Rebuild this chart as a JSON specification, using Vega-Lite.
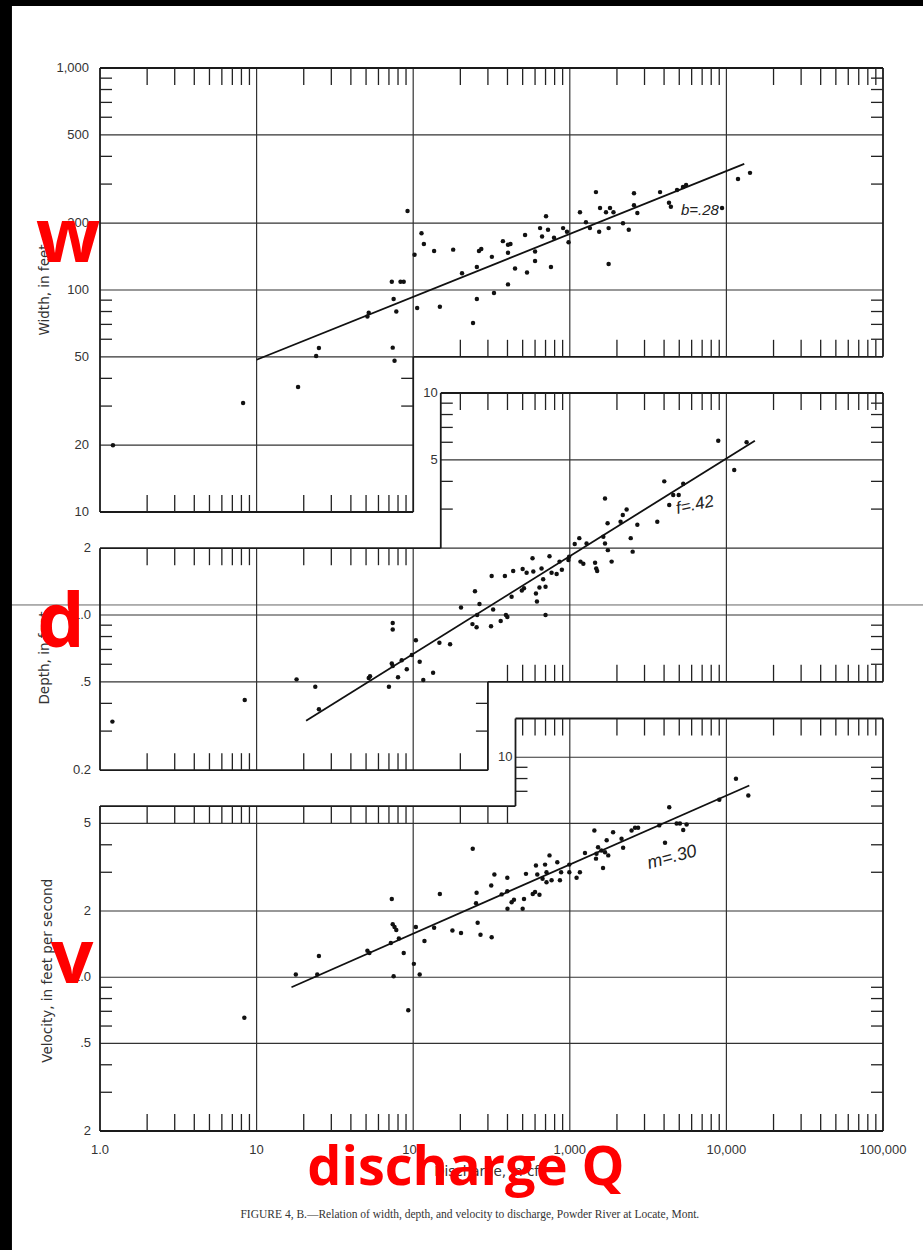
{
  "$schema": "https://vega.github.io/schema/vega-lite/v6.json",
  "width": 783,
  "height": 1063,
  "autosize": {"type": "none"},
  "padding": {"left": 100, "top": 68, "right": 40, "bottom": 119},
  "background": "white",
  "config": {"view": {"stroke": null}, "font": "DejaVu Sans"},
  "resolve": {"scale": {"y": "independent"}},
  "datasets": {
    "width_segments": [
      {"discharge": 1, "discharge2": 100000, "width": 1000, "width2": 1000, "kind": "frame"},
      {"discharge": 100000, "discharge2": 100000, "width": 1000, "width2": 50, "kind": "frame"},
      {"discharge": 100, "discharge2": 100000, "width": 50, "width2": 50, "kind": "frame"},
      {"discharge": 100, "discharge2": 100, "width": 50, "width2": 10, "kind": "frame"},
      {"discharge": 1, "discharge2": 100, "width": 10, "width2": 10, "kind": "frame"},
      {"discharge": 1, "discharge2": 1, "width": 10, "width2": 1000, "kind": "frame"},
      {"discharge": 1, "discharge2": 100000, "width": 500, "width2": 500, "kind": "grid"},
      {"discharge": 1, "discharge2": 100000, "width": 200, "width2": 200, "kind": "grid"},
      {"discharge": 1, "discharge2": 100000, "width": 100, "width2": 100, "kind": "grid"},
      {"discharge": 1, "discharge2": 100, "width": 50, "width2": 50, "kind": "grid"},
      {"discharge": 1, "discharge2": 100, "width": 20, "width2": 20, "kind": "grid"},
      {"discharge": 10, "discharge2": 10, "width": 10, "width2": 1000, "kind": "grid"},
      {"discharge": 100, "discharge2": 100, "width": 50, "width2": 1000, "kind": "grid"},
      {"discharge": 1000, "discharge2": 1000, "width": 50, "width2": 1000, "kind": "grid"},
      {"discharge": 10000, "discharge2": 10000, "width": 50, "width2": 1000, "kind": "grid"}
    ],
    "width_ticks": [
      {"discharge": 2, "width": 1000, "side": "top"}, {"discharge": 3, "width": 1000, "side": "top"}, {"discharge": 4, "width": 1000, "side": "top"}, {"discharge": 5, "width": 1000, "side": "top"}, {"discharge": 6, "width": 1000, "side": "top"}, {"discharge": 7, "width": 1000, "side": "top"}, {"discharge": 8, "width": 1000, "side": "top"}, {"discharge": 9, "width": 1000, "side": "top"},
      {"discharge": 20, "width": 1000, "side": "top"}, {"discharge": 30, "width": 1000, "side": "top"}, {"discharge": 40, "width": 1000, "side": "top"}, {"discharge": 50, "width": 1000, "side": "top"}, {"discharge": 60, "width": 1000, "side": "top"}, {"discharge": 70, "width": 1000, "side": "top"}, {"discharge": 80, "width": 1000, "side": "top"}, {"discharge": 90, "width": 1000, "side": "top"},
      {"discharge": 200, "width": 1000, "side": "top"}, {"discharge": 300, "width": 1000, "side": "top"}, {"discharge": 400, "width": 1000, "side": "top"}, {"discharge": 500, "width": 1000, "side": "top"}, {"discharge": 600, "width": 1000, "side": "top"}, {"discharge": 700, "width": 1000, "side": "top"}, {"discharge": 800, "width": 1000, "side": "top"}, {"discharge": 900, "width": 1000, "side": "top"},
      {"discharge": 2000, "width": 1000, "side": "top"}, {"discharge": 3000, "width": 1000, "side": "top"}, {"discharge": 4000, "width": 1000, "side": "top"}, {"discharge": 5000, "width": 1000, "side": "top"}, {"discharge": 6000, "width": 1000, "side": "top"}, {"discharge": 7000, "width": 1000, "side": "top"}, {"discharge": 8000, "width": 1000, "side": "top"}, {"discharge": 9000, "width": 1000, "side": "top"},
      {"discharge": 20000, "width": 1000, "side": "top"}, {"discharge": 30000, "width": 1000, "side": "top"}, {"discharge": 40000, "width": 1000, "side": "top"}, {"discharge": 50000, "width": 1000, "side": "top"}, {"discharge": 60000, "width": 1000, "side": "top"}, {"discharge": 70000, "width": 1000, "side": "top"}, {"discharge": 80000, "width": 1000, "side": "top"}, {"discharge": 90000, "width": 1000, "side": "top"},
      {"discharge": 2, "width": 10, "side": "bottom"}, {"discharge": 3, "width": 10, "side": "bottom"}, {"discharge": 4, "width": 10, "side": "bottom"}, {"discharge": 5, "width": 10, "side": "bottom"}, {"discharge": 6, "width": 10, "side": "bottom"}, {"discharge": 7, "width": 10, "side": "bottom"}, {"discharge": 8, "width": 10, "side": "bottom"}, {"discharge": 9, "width": 10, "side": "bottom"},
      {"discharge": 20, "width": 10, "side": "bottom"}, {"discharge": 30, "width": 10, "side": "bottom"}, {"discharge": 40, "width": 10, "side": "bottom"}, {"discharge": 50, "width": 10, "side": "bottom"}, {"discharge": 60, "width": 10, "side": "bottom"}, {"discharge": 70, "width": 10, "side": "bottom"}, {"discharge": 80, "width": 10, "side": "bottom"}, {"discharge": 90, "width": 10, "side": "bottom"},
      {"discharge": 200, "width": 50, "side": "bottom"}, {"discharge": 300, "width": 50, "side": "bottom"}, {"discharge": 400, "width": 50, "side": "bottom"}, {"discharge": 500, "width": 50, "side": "bottom"}, {"discharge": 600, "width": 50, "side": "bottom"}, {"discharge": 700, "width": 50, "side": "bottom"}, {"discharge": 800, "width": 50, "side": "bottom"}, {"discharge": 900, "width": 50, "side": "bottom"},
      {"discharge": 2000, "width": 50, "side": "bottom"}, {"discharge": 3000, "width": 50, "side": "bottom"}, {"discharge": 4000, "width": 50, "side": "bottom"}, {"discharge": 5000, "width": 50, "side": "bottom"}, {"discharge": 6000, "width": 50, "side": "bottom"}, {"discharge": 7000, "width": 50, "side": "bottom"}, {"discharge": 8000, "width": 50, "side": "bottom"}, {"discharge": 9000, "width": 50, "side": "bottom"},
      {"discharge": 20000, "width": 50, "side": "bottom"}, {"discharge": 30000, "width": 50, "side": "bottom"}, {"discharge": 40000, "width": 50, "side": "bottom"}, {"discharge": 50000, "width": 50, "side": "bottom"}, {"discharge": 60000, "width": 50, "side": "bottom"}, {"discharge": 70000, "width": 50, "side": "bottom"}, {"discharge": 80000, "width": 50, "side": "bottom"}, {"discharge": 90000, "width": 50, "side": "bottom"},
      {"discharge": 1, "width": 30, "side": "left"}, {"discharge": 1, "width": 40, "side": "left"}, {"discharge": 1, "width": 60, "side": "left"}, {"discharge": 1, "width": 70, "side": "left"}, {"discharge": 1, "width": 80, "side": "left"}, {"discharge": 1, "width": 90, "side": "left"},
      {"discharge": 1, "width": 300, "side": "left"}, {"discharge": 1, "width": 400, "side": "left"}, {"discharge": 1, "width": 600, "side": "left"}, {"discharge": 1, "width": 700, "side": "left"}, {"discharge": 1, "width": 800, "side": "left"}, {"discharge": 1, "width": 900, "side": "left"},
      {"discharge": 100000, "width": 60, "side": "right"}, {"discharge": 100000, "width": 70, "side": "right"}, {"discharge": 100000, "width": 80, "side": "right"}, {"discharge": 100000, "width": 90, "side": "right"},
      {"discharge": 100000, "width": 300, "side": "right"}, {"discharge": 100000, "width": 400, "side": "right"}, {"discharge": 100000, "width": 600, "side": "right"}, {"discharge": 100000, "width": 700, "side": "right"}, {"discharge": 100000, "width": 800, "side": "right"}, {"discharge": 100000, "width": 900, "side": "right"},
      {"discharge": 100, "width": 30, "side": "right"}, {"discharge": 100, "width": 40, "side": "right"}
    ],
    "width_labels": [
      {"discharge": 1, "width": 1000, "label": "1,000"}, {"discharge": 1, "width": 500, "label": "500"}, {"discharge": 1, "width": 200, "label": "200"}, {"discharge": 1, "width": 100, "label": "100"}, {"discharge": 1, "width": 50, "label": "50"}, {"discharge": 1, "width": 20, "label": "20"}, {"discharge": 1, "width": 10, "label": "10"}
    ],
    "width_fit": [{"discharge": 10, "width": 48.5}, {"discharge": 13000, "width": 370}],
    "width_points": [
      {"discharge": 92, "width": 227}, {"discharge": 102, "width": 144}, {"discharge": 113, "width": 180}, {"discharge": 117, "width": 161}, {"discharge": 136, "width": 150}, {"discharge": 180, "width": 152}, {"discharge": 205, "width": 119}, {"discharge": 255, "width": 127}, {"discharge": 263, "width": 150}, {"discharge": 272, "width": 153}, {"discharge": 255, "width": 91}, {"discharge": 318, "width": 141}, {"discharge": 328, "width": 97}, {"discharge": 374, "width": 166}, {"discharge": 403, "width": 160}, {"discharge": 418, "width": 161}, {"discharge": 403, "width": 147}, {"discharge": 403, "width": 106}, {"discharge": 447, "width": 125}, {"discharge": 518, "width": 177}, {"discharge": 533, "width": 120}, {"discharge": 600, "width": 149}, {"discharge": 600, "width": 135}, {"discharge": 646, "width": 190}, {"discharge": 665, "width": 174}, {"discharge": 705, "width": 215}, {"discharge": 726, "width": 187}, {"discharge": 793, "width": 172}, {"discharge": 758, "width": 127}, {"discharge": 906, "width": 190}, {"discharge": 959, "width": 183}, {"discharge": 982, "width": 164}, {"discharge": 1161, "width": 224}, {"discharge": 1268, "width": 202}, {"discharge": 1344, "width": 190}, {"discharge": 1469, "width": 276}, {"discharge": 1540, "width": 183}, {"discharge": 1560, "width": 234}, {"discharge": 1703, "width": 224}, {"discharge": 1770, "width": 190}, {"discharge": 1770, "width": 131}, {"discharge": 1806, "width": 234}, {"discharge": 1900, "width": 224}, {"discharge": 2186, "width": 200}, {"discharge": 2380, "width": 187}, {"discharge": 2570, "width": 273}, {"discharge": 2570, "width": 241}, {"discharge": 2700, "width": 222}, {"discharge": 3770, "width": 276}, {"discharge": 4300, "width": 247}, {"discharge": 4420, "width": 237}, {"discharge": 4840, "width": 282}, {"discharge": 5280, "width": 291}, {"discharge": 5530, "width": 297}, {"discharge": 9380, "width": 234}, {"discharge": 11860, "width": 316}, {"discharge": 14150, "width": 337}, {"discharge": 73, "width": 109}, {"discharge": 83, "width": 109}, {"discharge": 87, "width": 109}, {"discharge": 75, "width": 91}, {"discharge": 52, "width": 79}, {"discharge": 51, "width": 76}, {"discharge": 78, "width": 80}, {"discharge": 106, "width": 83}, {"discharge": 148, "width": 84}, {"discharge": 241, "width": 71}, {"discharge": 24, "width": 50.4}, {"discharge": 25, "width": 54.8}, {"discharge": 74, "width": 55}, {"discharge": 76, "width": 48}, {"discharge": 18.4, "width": 36.6}, {"discharge": 8.2, "width": 31}, {"discharge": 1.21, "width": 20}
    ],
    "depth_segments": [
      {"discharge": 0.2, "discharge2": 300000, "depth": 1.11, "depth2": 1.11, "kind": "overlay"},
      {"discharge": 150, "discharge2": 100000, "depth": 10, "depth2": 10, "kind": "frame"},
      {"discharge": 150, "discharge2": 150, "depth": 10, "depth2": 2, "kind": "frame"},
      {"discharge": 1, "discharge2": 150, "depth": 2, "depth2": 2, "kind": "frame"},
      {"discharge": 1, "discharge2": 1, "depth": 2, "depth2": 0.2, "kind": "frame"},
      {"discharge": 1, "discharge2": 300, "depth": 0.2, "depth2": 0.2, "kind": "frame"},
      {"discharge": 300, "discharge2": 300, "depth": 0.2, "depth2": 0.5, "kind": "frame"},
      {"discharge": 300, "discharge2": 100000, "depth": 0.5, "depth2": 0.5, "kind": "frame"},
      {"discharge": 100000, "discharge2": 100000, "depth": 0.5, "depth2": 10, "kind": "frame"},
      {"discharge": 150, "discharge2": 100000, "depth": 5, "depth2": 5, "kind": "grid"},
      {"discharge": 150, "discharge2": 100000, "depth": 2, "depth2": 2, "kind": "grid"},
      {"discharge": 1, "discharge2": 100000, "depth": 1, "depth2": 1, "kind": "grid"},
      {"discharge": 1, "discharge2": 300, "depth": 0.5, "depth2": 0.5, "kind": "grid"},
      {"discharge": 10, "discharge2": 10, "depth": 0.2, "depth2": 2, "kind": "grid"},
      {"discharge": 100, "discharge2": 100, "depth": 0.2, "depth2": 2, "kind": "grid"},
      {"discharge": 1000, "discharge2": 1000, "depth": 0.5, "depth2": 10, "kind": "grid"},
      {"discharge": 10000, "discharge2": 10000, "depth": 0.5, "depth2": 10, "kind": "grid"}
    ],
    "depth_ticks": [
      {"discharge": 200, "depth": 10, "side": "top"}, {"discharge": 300, "depth": 10, "side": "top"}, {"discharge": 400, "depth": 10, "side": "top"}, {"discharge": 500, "depth": 10, "side": "top"}, {"discharge": 600, "depth": 10, "side": "top"}, {"discharge": 700, "depth": 10, "side": "top"}, {"discharge": 800, "depth": 10, "side": "top"}, {"discharge": 900, "depth": 10, "side": "top"},
      {"discharge": 2000, "depth": 10, "side": "top"}, {"discharge": 3000, "depth": 10, "side": "top"}, {"discharge": 4000, "depth": 10, "side": "top"}, {"discharge": 5000, "depth": 10, "side": "top"}, {"discharge": 6000, "depth": 10, "side": "top"}, {"discharge": 7000, "depth": 10, "side": "top"}, {"discharge": 8000, "depth": 10, "side": "top"}, {"discharge": 9000, "depth": 10, "side": "top"},
      {"discharge": 20000, "depth": 10, "side": "top"}, {"discharge": 30000, "depth": 10, "side": "top"}, {"discharge": 40000, "depth": 10, "side": "top"}, {"discharge": 50000, "depth": 10, "side": "top"}, {"discharge": 60000, "depth": 10, "side": "top"}, {"discharge": 70000, "depth": 10, "side": "top"}, {"discharge": 80000, "depth": 10, "side": "top"}, {"discharge": 90000, "depth": 10, "side": "top"},
      {"discharge": 2, "depth": 2, "side": "top"}, {"discharge": 3, "depth": 2, "side": "top"}, {"discharge": 4, "depth": 2, "side": "top"}, {"discharge": 5, "depth": 2, "side": "top"}, {"discharge": 6, "depth": 2, "side": "top"}, {"discharge": 7, "depth": 2, "side": "top"}, {"discharge": 8, "depth": 2, "side": "top"}, {"discharge": 9, "depth": 2, "side": "top"},
      {"discharge": 20, "depth": 2, "side": "top"}, {"discharge": 30, "depth": 2, "side": "top"}, {"discharge": 40, "depth": 2, "side": "top"}, {"discharge": 50, "depth": 2, "side": "top"}, {"discharge": 60, "depth": 2, "side": "top"}, {"discharge": 70, "depth": 2, "side": "top"}, {"discharge": 80, "depth": 2, "side": "top"}, {"discharge": 90, "depth": 2, "side": "top"},
      {"discharge": 2, "depth": 0.2, "side": "bottom"}, {"discharge": 3, "depth": 0.2, "side": "bottom"}, {"discharge": 4, "depth": 0.2, "side": "bottom"}, {"discharge": 5, "depth": 0.2, "side": "bottom"}, {"discharge": 6, "depth": 0.2, "side": "bottom"}, {"discharge": 7, "depth": 0.2, "side": "bottom"}, {"discharge": 8, "depth": 0.2, "side": "bottom"}, {"discharge": 9, "depth": 0.2, "side": "bottom"},
      {"discharge": 20, "depth": 0.2, "side": "bottom"}, {"discharge": 30, "depth": 0.2, "side": "bottom"}, {"discharge": 40, "depth": 0.2, "side": "bottom"}, {"discharge": 50, "depth": 0.2, "side": "bottom"}, {"discharge": 60, "depth": 0.2, "side": "bottom"}, {"discharge": 70, "depth": 0.2, "side": "bottom"}, {"discharge": 80, "depth": 0.2, "side": "bottom"}, {"discharge": 90, "depth": 0.2, "side": "bottom"}, {"discharge": 200, "depth": 0.2, "side": "bottom"},
      {"discharge": 400, "depth": 0.5, "side": "bottom"}, {"discharge": 500, "depth": 0.5, "side": "bottom"}, {"discharge": 600, "depth": 0.5, "side": "bottom"}, {"discharge": 700, "depth": 0.5, "side": "bottom"}, {"discharge": 800, "depth": 0.5, "side": "bottom"}, {"discharge": 900, "depth": 0.5, "side": "bottom"},
      {"discharge": 2000, "depth": 0.5, "side": "bottom"}, {"discharge": 3000, "depth": 0.5, "side": "bottom"}, {"discharge": 4000, "depth": 0.5, "side": "bottom"}, {"discharge": 5000, "depth": 0.5, "side": "bottom"}, {"discharge": 6000, "depth": 0.5, "side": "bottom"}, {"discharge": 7000, "depth": 0.5, "side": "bottom"}, {"discharge": 8000, "depth": 0.5, "side": "bottom"}, {"discharge": 9000, "depth": 0.5, "side": "bottom"},
      {"discharge": 20000, "depth": 0.5, "side": "bottom"}, {"discharge": 30000, "depth": 0.5, "side": "bottom"}, {"discharge": 40000, "depth": 0.5, "side": "bottom"}, {"discharge": 50000, "depth": 0.5, "side": "bottom"}, {"discharge": 60000, "depth": 0.5, "side": "bottom"}, {"discharge": 70000, "depth": 0.5, "side": "bottom"}, {"discharge": 80000, "depth": 0.5, "side": "bottom"}, {"discharge": 90000, "depth": 0.5, "side": "bottom"},
      {"discharge": 1, "depth": 0.3, "side": "left"}, {"discharge": 1, "depth": 0.4, "side": "left"}, {"discharge": 1, "depth": 0.6, "side": "left"}, {"discharge": 1, "depth": 0.7, "side": "left"}, {"discharge": 1, "depth": 0.8, "side": "left"}, {"discharge": 1, "depth": 0.9, "side": "left"},
      {"discharge": 150, "depth": 3, "side": "left"}, {"discharge": 150, "depth": 4, "side": "left"}, {"discharge": 150, "depth": 6, "side": "left"}, {"discharge": 150, "depth": 7, "side": "left"}, {"discharge": 150, "depth": 8, "side": "left"}, {"discharge": 150, "depth": 9, "side": "left"},
      {"discharge": 100000, "depth": 0.6, "side": "right"}, {"discharge": 100000, "depth": 0.7, "side": "right"}, {"discharge": 100000, "depth": 0.8, "side": "right"}, {"discharge": 100000, "depth": 0.9, "side": "right"},
      {"discharge": 100000, "depth": 3, "side": "right"}, {"discharge": 100000, "depth": 4, "side": "right"}, {"discharge": 100000, "depth": 6, "side": "right"}, {"discharge": 100000, "depth": 7, "side": "right"}, {"discharge": 100000, "depth": 8, "side": "right"}, {"discharge": 100000, "depth": 9, "side": "right"},
      {"discharge": 300, "depth": 0.3, "side": "right"}, {"discharge": 300, "depth": 0.4, "side": "right"}
    ],
    "depth_labels": [
      {"discharge": 1, "depth": 2, "label": "2", "edge": "outer"}, {"discharge": 1, "depth": 1, "label": "1.0", "edge": "outer"}, {"discharge": 1, "depth": 0.5, "label": ".5", "edge": "outer"}, {"discharge": 1, "depth": 0.2, "label": "0.2", "edge": "outer"},
      {"discharge": 150, "depth": 10, "label": "10", "edge": "step"}, {"discharge": 150, "depth": 5, "label": "5", "edge": "step"}
    ],
    "depth_fit": [{"discharge": 20.7, "depth": 0.334}, {"discharge": 15200, "depth": 6.1}],
    "depth_points": [
      {"discharge": 8870, "depth": 6.1}, {"discharge": 13460, "depth": 6.0}, {"discharge": 11220, "depth": 4.5}, {"discharge": 4010, "depth": 4.0}, {"discharge": 5300, "depth": 3.9}, {"discharge": 4575, "depth": 3.47}, {"discharge": 4960, "depth": 3.47}, {"discharge": 4315, "depth": 3.13}, {"discharge": 1678, "depth": 3.35}, {"discharge": 1743, "depth": 2.59}, {"discharge": 2110, "depth": 2.63}, {"discharge": 2180, "depth": 2.82}, {"discharge": 2306, "depth": 2.99}, {"discharge": 2700, "depth": 2.55}, {"discharge": 3620, "depth": 2.63}, {"discharge": 2450, "depth": 2.22}, {"discharge": 2520, "depth": 1.93}, {"discharge": 1637, "depth": 2.25}, {"discharge": 1678, "depth": 2.1}, {"discharge": 1750, "depth": 1.96}, {"discharge": 1850, "depth": 1.74}, {"discharge": 1450, "depth": 1.72}, {"discharge": 1475, "depth": 1.62}, {"discharge": 1495, "depth": 1.58}, {"discharge": 1280, "depth": 2.1}, {"discharge": 1150, "depth": 2.22}, {"discharge": 1075, "depth": 2.09}, {"discharge": 1170, "depth": 1.74}, {"discharge": 1220, "depth": 1.7}, {"discharge": 980, "depth": 1.77}, {"discharge": 990, "depth": 1.83}, {"discharge": 890, "depth": 1.6}, {"discharge": 860, "depth": 1.74}, {"discharge": 824, "depth": 1.53}, {"discharge": 765, "depth": 1.55}, {"discharge": 742, "depth": 1.84}, {"discharge": 676, "depth": 1.45}, {"discharge": 660, "depth": 1.62}, {"discharge": 700, "depth": 1.34}, {"discharge": 640, "depth": 1.33}, {"discharge": 608, "depth": 1.25}, {"discharge": 617, "depth": 1.15}, {"discharge": 585, "depth": 1.57}, {"discharge": 578, "depth": 1.8}, {"discharge": 530, "depth": 1.55}, {"discharge": 500, "depth": 1.61}, {"discharge": 510, "depth": 1.32}, {"discharge": 494, "depth": 1.29}, {"discharge": 435, "depth": 1.58}, {"discharge": 425, "depth": 1.21}, {"discharge": 385, "depth": 1.5}, {"discharge": 317, "depth": 1.5}, {"discharge": 248, "depth": 1.28}, {"discharge": 265, "depth": 1.12}, {"discharge": 202, "depth": 1.08}, {"discharge": 324, "depth": 1.06}, {"discharge": 256, "depth": 1.0}, {"discharge": 391, "depth": 1.0}, {"discharge": 700, "depth": 1.0}, {"discharge": 239, "depth": 0.91}, {"discharge": 254, "depth": 0.88}, {"discharge": 314, "depth": 0.89}, {"discharge": 362, "depth": 0.94}, {"discharge": 399, "depth": 0.98}, {"discharge": 172, "depth": 0.738}, {"discharge": 147, "depth": 0.75}, {"discharge": 104, "depth": 0.77}, {"discharge": 98, "depth": 0.66}, {"discharge": 110, "depth": 0.616}, {"discharge": 84.5, "depth": 0.626}, {"discharge": 73, "depth": 0.605}, {"discharge": 74, "depth": 0.59}, {"discharge": 74, "depth": 0.92}, {"discharge": 74, "depth": 0.86}, {"discharge": 91, "depth": 0.57}, {"discharge": 80, "depth": 0.524}, {"discharge": 116, "depth": 0.51}, {"discharge": 134, "depth": 0.55}, {"discharge": 70, "depth": 0.475}, {"discharge": 52, "depth": 0.52}, {"discharge": 53, "depth": 0.53}, {"discharge": 18, "depth": 0.513}, {"discharge": 23.7, "depth": 0.475}, {"discharge": 25, "depth": 0.376}, {"discharge": 8.4, "depth": 0.414}, {"discharge": 1.2, "depth": 0.331}
    ],
    "velocity_segments": [
      {"discharge": 1, "discharge2": 450, "velocity": 6, "velocity2": 6, "kind": "frame"},
      {"discharge": 450, "discharge2": 450, "velocity": 6, "velocity2": 15, "kind": "frame"},
      {"discharge": 450, "discharge2": 100000, "velocity": 15, "velocity2": 15, "kind": "frame"},
      {"discharge": 100000, "discharge2": 100000, "velocity": 15, "velocity2": 0.2, "kind": "frame"},
      {"discharge": 1, "discharge2": 100000, "velocity": 0.2, "velocity2": 0.2, "kind": "frame"},
      {"discharge": 1, "discharge2": 1, "velocity": 0.2, "velocity2": 6, "kind": "frame"},
      {"discharge": 450, "discharge2": 100000, "velocity": 10, "velocity2": 10, "kind": "grid"},
      {"discharge": 1, "discharge2": 100000, "velocity": 5, "velocity2": 5, "kind": "grid"},
      {"discharge": 1, "discharge2": 100000, "velocity": 2, "velocity2": 2, "kind": "grid"},
      {"discharge": 1, "discharge2": 100000, "velocity": 1, "velocity2": 1, "kind": "grid"},
      {"discharge": 1, "discharge2": 100000, "velocity": 0.5, "velocity2": 0.5, "kind": "grid"},
      {"discharge": 10, "discharge2": 10, "velocity": 0.2, "velocity2": 6, "kind": "grid"},
      {"discharge": 100, "discharge2": 100, "velocity": 0.2, "velocity2": 6, "kind": "grid"},
      {"discharge": 1000, "discharge2": 1000, "velocity": 0.2, "velocity2": 15, "kind": "grid"},
      {"discharge": 10000, "discharge2": 10000, "velocity": 0.2, "velocity2": 15, "kind": "grid"}
    ],
    "velocity_ticks": [
      {"discharge": 2, "velocity": 6, "side": "top"}, {"discharge": 3, "velocity": 6, "side": "top"}, {"discharge": 4, "velocity": 6, "side": "top"}, {"discharge": 5, "velocity": 6, "side": "top"}, {"discharge": 6, "velocity": 6, "side": "top"}, {"discharge": 7, "velocity": 6, "side": "top"}, {"discharge": 8, "velocity": 6, "side": "top"}, {"discharge": 9, "velocity": 6, "side": "top"},
      {"discharge": 20, "velocity": 6, "side": "top"}, {"discharge": 30, "velocity": 6, "side": "top"}, {"discharge": 40, "velocity": 6, "side": "top"}, {"discharge": 50, "velocity": 6, "side": "top"}, {"discharge": 60, "velocity": 6, "side": "top"}, {"discharge": 70, "velocity": 6, "side": "top"}, {"discharge": 80, "velocity": 6, "side": "top"}, {"discharge": 90, "velocity": 6, "side": "top"},
      {"discharge": 200, "velocity": 6, "side": "top"}, {"discharge": 300, "velocity": 6, "side": "top"}, {"discharge": 400, "velocity": 6, "side": "top"},
      {"discharge": 500, "velocity": 15, "side": "top"}, {"discharge": 600, "velocity": 15, "side": "top"}, {"discharge": 700, "velocity": 15, "side": "top"}, {"discharge": 800, "velocity": 15, "side": "top"}, {"discharge": 900, "velocity": 15, "side": "top"},
      {"discharge": 2000, "velocity": 15, "side": "top"}, {"discharge": 3000, "velocity": 15, "side": "top"}, {"discharge": 4000, "velocity": 15, "side": "top"}, {"discharge": 5000, "velocity": 15, "side": "top"}, {"discharge": 6000, "velocity": 15, "side": "top"}, {"discharge": 7000, "velocity": 15, "side": "top"}, {"discharge": 8000, "velocity": 15, "side": "top"}, {"discharge": 9000, "velocity": 15, "side": "top"},
      {"discharge": 20000, "velocity": 15, "side": "top"}, {"discharge": 30000, "velocity": 15, "side": "top"}, {"discharge": 40000, "velocity": 15, "side": "top"}, {"discharge": 50000, "velocity": 15, "side": "top"}, {"discharge": 60000, "velocity": 15, "side": "top"}, {"discharge": 70000, "velocity": 15, "side": "top"}, {"discharge": 80000, "velocity": 15, "side": "top"}, {"discharge": 90000, "velocity": 15, "side": "top"},
      {"discharge": 2, "velocity": 0.2, "side": "bottom"}, {"discharge": 3, "velocity": 0.2, "side": "bottom"}, {"discharge": 4, "velocity": 0.2, "side": "bottom"}, {"discharge": 5, "velocity": 0.2, "side": "bottom"}, {"discharge": 6, "velocity": 0.2, "side": "bottom"}, {"discharge": 7, "velocity": 0.2, "side": "bottom"}, {"discharge": 8, "velocity": 0.2, "side": "bottom"}, {"discharge": 9, "velocity": 0.2, "side": "bottom"},
      {"discharge": 20, "velocity": 0.2, "side": "bottom"}, {"discharge": 30, "velocity": 0.2, "side": "bottom"}, {"discharge": 40, "velocity": 0.2, "side": "bottom"}, {"discharge": 50, "velocity": 0.2, "side": "bottom"}, {"discharge": 60, "velocity": 0.2, "side": "bottom"}, {"discharge": 70, "velocity": 0.2, "side": "bottom"}, {"discharge": 80, "velocity": 0.2, "side": "bottom"}, {"discharge": 90, "velocity": 0.2, "side": "bottom"},
      {"discharge": 200, "velocity": 0.2, "side": "bottom"}, {"discharge": 300, "velocity": 0.2, "side": "bottom"}, {"discharge": 400, "velocity": 0.2, "side": "bottom"}, {"discharge": 500, "velocity": 0.2, "side": "bottom"}, {"discharge": 600, "velocity": 0.2, "side": "bottom"}, {"discharge": 700, "velocity": 0.2, "side": "bottom"}, {"discharge": 800, "velocity": 0.2, "side": "bottom"}, {"discharge": 900, "velocity": 0.2, "side": "bottom"},
      {"discharge": 2000, "velocity": 0.2, "side": "bottom"}, {"discharge": 3000, "velocity": 0.2, "side": "bottom"}, {"discharge": 4000, "velocity": 0.2, "side": "bottom"}, {"discharge": 5000, "velocity": 0.2, "side": "bottom"}, {"discharge": 6000, "velocity": 0.2, "side": "bottom"}, {"discharge": 7000, "velocity": 0.2, "side": "bottom"}, {"discharge": 8000, "velocity": 0.2, "side": "bottom"}, {"discharge": 9000, "velocity": 0.2, "side": "bottom"},
      {"discharge": 20000, "velocity": 0.2, "side": "bottom"}, {"discharge": 30000, "velocity": 0.2, "side": "bottom"}, {"discharge": 40000, "velocity": 0.2, "side": "bottom"}, {"discharge": 50000, "velocity": 0.2, "side": "bottom"}, {"discharge": 60000, "velocity": 0.2, "side": "bottom"}, {"discharge": 70000, "velocity": 0.2, "side": "bottom"}, {"discharge": 80000, "velocity": 0.2, "side": "bottom"}, {"discharge": 90000, "velocity": 0.2, "side": "bottom"},
      {"discharge": 1, "velocity": 0.3, "side": "left"}, {"discharge": 1, "velocity": 0.4, "side": "left"}, {"discharge": 1, "velocity": 0.6, "side": "left"}, {"discharge": 1, "velocity": 0.7, "side": "left"}, {"discharge": 1, "velocity": 0.8, "side": "left"}, {"discharge": 1, "velocity": 0.9, "side": "left"}, {"discharge": 1, "velocity": 3, "side": "left"}, {"discharge": 1, "velocity": 4, "side": "left"},
      {"discharge": 450, "velocity": 7, "side": "left"}, {"discharge": 450, "velocity": 8, "side": "left"}, {"discharge": 450, "velocity": 9, "side": "left"},
      {"discharge": 100000, "velocity": 0.3, "side": "right"}, {"discharge": 100000, "velocity": 0.4, "side": "right"}, {"discharge": 100000, "velocity": 0.6, "side": "right"}, {"discharge": 100000, "velocity": 0.7, "side": "right"}, {"discharge": 100000, "velocity": 0.8, "side": "right"}, {"discharge": 100000, "velocity": 0.9, "side": "right"},
      {"discharge": 100000, "velocity": 3, "side": "right"}, {"discharge": 100000, "velocity": 4, "side": "right"}, {"discharge": 100000, "velocity": 6, "side": "right"}, {"discharge": 100000, "velocity": 7, "side": "right"}, {"discharge": 100000, "velocity": 8, "side": "right"}, {"discharge": 100000, "velocity": 9, "side": "right"}
    ],
    "velocity_labels": [
      {"discharge": 1, "velocity": 5, "label": "5", "edge": "outer"}, {"discharge": 1, "velocity": 2, "label": "2", "edge": "outer"}, {"discharge": 1, "velocity": 1, "label": "1.0", "edge": "outer"}, {"discharge": 1, "velocity": 0.5, "label": ".5", "edge": "outer"}, {"discharge": 1, "velocity": 0.2, "label": "2", "edge": "outer"},
      {"discharge": 450, "velocity": 10, "label": "10", "edge": "step"}
    ],
    "discharge_labels": [
      {"discharge": 1, "velocity": 0.2, "label": "1.0"}, {"discharge": 10, "velocity": 0.2, "label": "10"}, {"discharge": 100, "velocity": 0.2, "label": "100"}, {"discharge": 1000, "velocity": 0.2, "label": "1,000"}, {"discharge": 10000, "velocity": 0.2, "label": "10,000"}, {"discharge": 100000, "velocity": 0.2, "label": "100,000"}
    ],
    "velocity_fit": [{"discharge": 16.7, "velocity": 0.9}, {"discharge": 14000, "velocity": 7.44}],
    "velocity_points": [
      {"discharge": 8.35, "velocity": 0.654}, {"discharge": 17.8, "velocity": 1.03}, {"discharge": 24.4, "velocity": 1.03}, {"discharge": 25, "velocity": 1.25}, {"discharge": 51, "velocity": 1.32}, {"discharge": 52.5, "velocity": 1.29}, {"discharge": 73, "velocity": 2.27}, {"discharge": 74, "velocity": 1.74}, {"discharge": 76, "velocity": 1.69}, {"discharge": 78, "velocity": 1.64}, {"discharge": 72, "velocity": 1.43}, {"discharge": 75, "velocity": 1.01}, {"discharge": 81, "velocity": 1.5}, {"discharge": 87, "velocity": 1.29}, {"discharge": 93, "velocity": 0.707}, {"discharge": 101, "velocity": 1.15}, {"discharge": 104, "velocity": 1.69}, {"discharge": 110, "velocity": 1.03}, {"discharge": 118, "velocity": 1.46}, {"discharge": 136, "velocity": 1.68}, {"discharge": 148, "velocity": 2.39}, {"discharge": 178, "velocity": 1.63}, {"discharge": 202, "velocity": 1.59}, {"discharge": 240, "velocity": 3.84}, {"discharge": 254, "velocity": 2.42}, {"discharge": 252, "velocity": 2.17}, {"discharge": 258, "velocity": 1.77}, {"discharge": 269, "velocity": 1.56}, {"discharge": 317, "velocity": 1.52}, {"discharge": 315, "velocity": 2.61}, {"discharge": 330, "velocity": 2.93}, {"discharge": 399, "velocity": 2.83}, {"discharge": 400, "velocity": 2.05}, {"discharge": 367, "velocity": 2.38}, {"discharge": 399, "velocity": 2.46}, {"discharge": 425, "velocity": 2.19}, {"discharge": 440, "velocity": 2.25}, {"discharge": 500, "velocity": 2.05}, {"discharge": 510, "velocity": 2.27}, {"discharge": 525, "velocity": 2.95}, {"discharge": 580, "velocity": 2.39}, {"discharge": 600, "velocity": 2.44}, {"discharge": 640, "velocity": 2.37}, {"discharge": 608, "velocity": 3.22}, {"discharge": 620, "velocity": 2.93}, {"discharge": 670, "velocity": 2.8}, {"discharge": 695, "velocity": 3.25}, {"discharge": 710, "velocity": 3.0}, {"discharge": 710, "velocity": 2.7}, {"discharge": 742, "velocity": 3.58}, {"discharge": 765, "velocity": 2.76}, {"discharge": 832, "velocity": 3.33}, {"discharge": 865, "velocity": 2.76}, {"discharge": 880, "velocity": 3.0}, {"discharge": 993, "velocity": 3.25}, {"discharge": 993, "velocity": 3.0}, {"discharge": 1105, "velocity": 2.83}, {"discharge": 1160, "velocity": 3.0}, {"discharge": 1250, "velocity": 3.67}, {"discharge": 1435, "velocity": 4.64}, {"discharge": 1470, "velocity": 3.46}, {"discharge": 1480, "velocity": 3.64}, {"discharge": 1515, "velocity": 3.9}, {"discharge": 1590, "velocity": 3.77}, {"discharge": 1630, "velocity": 3.14}, {"discharge": 1678, "velocity": 3.7}, {"discharge": 1720, "velocity": 4.19}, {"discharge": 1760, "velocity": 3.58}, {"discharge": 1890, "velocity": 4.56}, {"discharge": 2140, "velocity": 4.26}, {"discharge": 2190, "velocity": 3.88}, {"discharge": 2480, "velocity": 4.64}, {"discharge": 2610, "velocity": 4.78}, {"discharge": 2730, "velocity": 4.78}, {"discharge": 4055, "velocity": 4.09}, {"discharge": 3725, "velocity": 4.9}, {"discharge": 4315, "velocity": 5.93}, {"discharge": 4810, "velocity": 5.0}, {"discharge": 5050, "velocity": 5.0}, {"discharge": 5570, "velocity": 4.95}, {"discharge": 5300, "velocity": 4.67}, {"discharge": 9010, "velocity": 6.41}, {"discharge": 13800, "velocity": 6.7}, {"discharge": 11510, "velocity": 7.98}
    ]
  },
  "layer": [
    {
      "encoding": {
        "x": {"field": "discharge", "type": "quantitative", "scale": {"type": "log", "domain": [1, 100000], "nice": false}, "axis": null},
        "y": {"field": "width", "type": "quantitative", "scale": {"type": "log", "domain": [0.01628, 1000], "nice": false}, "axis": null}
      },
      "layer": [
        {"data": {"values": [{"discharge": 0.01, "discharge2": 10000000, "width": 1900, "width2": 1000000}]}, "mark": {"type": "rect", "color": "black"}, "encoding": {"x2": {"field": "discharge2"}, "y2": {"field": "width2"}}},
        {"data": {"name": "width_segments"}, "transform": [{"filter": "datum.kind === 'grid'"}], "mark": {"type": "rule", "color": "#333333", "strokeWidth": 1.2}, "encoding": {"x2": {"field": "discharge2"}, "y2": {"field": "width2"}}},
        {"data": {"name": "width_segments"}, "transform": [{"filter": "datum.kind === 'frame'"}], "mark": {"type": "rule", "color": "#1a1a1a", "strokeWidth": 1.8}, "encoding": {"x2": {"field": "discharge2"}, "y2": {"field": "width2"}}},
        {"data": {"name": "width_ticks"}, "transform": [{"filter": "datum.side === 'top'"}], "mark": {"type": "tick", "orient": "vertical", "size": 17, "thickness": 1.3, "yOffset": 8.5, "color": "#222222", "opacity": 1}},
        {"data": {"name": "width_ticks"}, "transform": [{"filter": "datum.side === 'bottom'"}], "mark": {"type": "tick", "orient": "vertical", "size": 17, "thickness": 1.3, "yOffset": -8.5, "color": "#222222", "opacity": 1}},
        {"data": {"name": "width_ticks"}, "transform": [{"filter": "datum.side === 'left'"}], "mark": {"type": "tick", "orient": "horizontal", "size": 12, "thickness": 1.3, "xOffset": 6, "color": "#222222", "opacity": 1}},
        {"data": {"name": "width_ticks"}, "transform": [{"filter": "datum.side === 'right'"}], "mark": {"type": "tick", "orient": "horizontal", "size": 12, "thickness": 1.3, "xOffset": -6, "color": "#222222", "opacity": 1}},
        {"data": {"name": "width_fit"}, "mark": {"type": "line", "color": "#111111", "strokeWidth": 1.8}},
        {"data": {"name": "width_points"}, "mark": {"type": "circle", "size": 20, "color": "#111111", "opacity": 1}},
        {"data": {"name": "width_labels"}, "mark": {"type": "text", "align": "right", "baseline": "middle", "dx": -11, "font": "Liberation Sans", "fontSize": 13, "color": "#333333"}, "encoding": {"text": {"field": "label", "type": "nominal"}}},
        {"data": {"values": [{"discharge": 1, "width": 100, "label": "Width, in feet"}]}, "mark": {"type": "text", "angle": 270, "align": "center", "baseline": "middle", "dy": -55, "font": "DejaVu Sans", "fontSize": 13.5, "color": "#333333"}, "encoding": {"text": {"field": "label", "type": "nominal"}}},
        {"data": {"values": [{"discharge": 6780, "width": 229, "label": "b=.28"}]}, "mark": {"type": "text", "align": "center", "baseline": "middle", "font": "Liberation Sans", "fontStyle": "italic", "fontSize": 15, "color": "#222222"}, "encoding": {"text": {"field": "label", "type": "nominal"}}},
        {"data": {"values": [{"discharge": 1, "width": 134, "label": "w"}]}, "mark": {"type": "text", "align": "center", "baseline": "alphabetic", "dx": -32, "font": "Open Sans", "fontWeight": "bold", "fontSize": 75, "color": "#ff0000"}, "encoding": {"text": {"field": "label", "type": "nominal"}}}
      ]
    },
    {
      "encoding": {
        "x": {"field": "discharge", "type": "quantitative", "scale": {"type": "log", "domain": [1, 100000], "nice": false}, "axis": null},
        "y": {"field": "depth", "type": "quantitative", "scale": {"type": "log", "domain": [0.00474, 291.1], "nice": false}, "axis": null}
      },
      "layer": [
        {"data": {"name": "depth_segments"}, "transform": [{"filter": "datum.kind === 'overlay'"}], "mark": {"type": "rule", "color": "#666666", "strokeWidth": 1}, "encoding": {"x2": {"field": "discharge2"}, "y2": {"field": "depth2"}}},
        {"data": {"name": "depth_segments"}, "transform": [{"filter": "datum.kind === 'grid'"}], "mark": {"type": "rule", "color": "#333333", "strokeWidth": 1.2}, "encoding": {"x2": {"field": "discharge2"}, "y2": {"field": "depth2"}}},
        {"data": {"name": "depth_segments"}, "transform": [{"filter": "datum.kind === 'frame'"}], "mark": {"type": "rule", "color": "#1a1a1a", "strokeWidth": 1.8}, "encoding": {"x2": {"field": "discharge2"}, "y2": {"field": "depth2"}}},
        {"data": {"name": "depth_ticks"}, "transform": [{"filter": "datum.side === 'top'"}], "mark": {"type": "tick", "orient": "vertical", "size": 17, "thickness": 1.3, "yOffset": 8.5, "color": "#222222", "opacity": 1}},
        {"data": {"name": "depth_ticks"}, "transform": [{"filter": "datum.side === 'bottom'"}], "mark": {"type": "tick", "orient": "vertical", "size": 17, "thickness": 1.3, "yOffset": -8.5, "color": "#222222", "opacity": 1}},
        {"data": {"name": "depth_ticks"}, "transform": [{"filter": "datum.side === 'left'"}], "mark": {"type": "tick", "orient": "horizontal", "size": 12, "thickness": 1.3, "xOffset": 6, "color": "#222222", "opacity": 1}},
        {"data": {"name": "depth_ticks"}, "transform": [{"filter": "datum.side === 'right'"}], "mark": {"type": "tick", "orient": "horizontal", "size": 12, "thickness": 1.3, "xOffset": -6, "color": "#222222", "opacity": 1}},
        {"data": {"name": "depth_fit"}, "mark": {"type": "line", "color": "#111111", "strokeWidth": 1.8}},
        {"data": {"name": "depth_points"}, "mark": {"type": "circle", "size": 20, "color": "#111111", "opacity": 1}},
        {"data": {"name": "depth_labels"}, "transform": [{"filter": "datum.edge === 'outer'"}], "mark": {"type": "text", "align": "right", "baseline": "middle", "dx": -9, "font": "Liberation Sans", "fontSize": 13, "color": "#333333"}, "encoding": {"text": {"field": "label", "type": "nominal"}}},
        {"data": {"name": "depth_labels"}, "transform": [{"filter": "datum.edge === 'step'"}], "mark": {"type": "text", "align": "right", "baseline": "middle", "dx": -3, "font": "Liberation Sans", "fontSize": 13, "color": "#333333"}, "encoding": {"text": {"field": "label", "type": "nominal"}}},
        {"data": {"values": [{"discharge": 1, "depth": 0.64, "label": "Depth, in feet"}]}, "mark": {"type": "text", "angle": 270, "align": "center", "baseline": "middle", "dy": -55, "font": "DejaVu Sans", "fontSize": 13.5, "color": "#333333"}, "encoding": {"text": {"field": "label", "type": "nominal"}}},
        {"data": {"values": [{"discharge": 6300, "depth": 3.13, "label": "f=.42"}]}, "mark": {"type": "text", "align": "center", "baseline": "middle", "angle": 348, "font": "Liberation Sans", "fontStyle": "italic", "fontSize": 17, "color": "#222222"}, "encoding": {"text": {"field": "label", "type": "nominal"}}},
        {"data": {"values": [{"discharge": 1, "depth": 0.718, "label": "d"}]}, "mark": {"type": "text", "align": "center", "baseline": "alphabetic", "dx": -39, "font": "Open Sans", "fontWeight": "bold", "fontSize": 75, "color": "#ff0000"}, "encoding": {"text": {"field": "label", "type": "nominal"}}}
      ]
    },
    {
      "encoding": {
        "x": {"field": "discharge", "type": "quantitative", "scale": {"type": "log", "domain": [1, 100000], "nice": false}, "axis": null},
        "y": {"field": "velocity", "type": "quantitative", "scale": {"type": "log", "domain": [0.2, 13580], "nice": false}, "axis": null}
      },
      "layer": [
        {"data": {"values": [{"discharge": 0.01, "discharge2": 0.274, "velocity": 0.05, "velocity2": 100000}]}, "mark": {"type": "rect", "color": "black"}, "encoding": {"x2": {"field": "discharge2"}, "y2": {"field": "velocity2"}}},
        {"data": {"name": "velocity_segments"}, "transform": [{"filter": "datum.kind === 'grid'"}], "mark": {"type": "rule", "color": "#333333", "strokeWidth": 1.2}, "encoding": {"x2": {"field": "discharge2"}, "y2": {"field": "velocity2"}}},
        {"data": {"name": "velocity_segments"}, "transform": [{"filter": "datum.kind === 'frame'"}], "mark": {"type": "rule", "color": "#1a1a1a", "strokeWidth": 1.8}, "encoding": {"x2": {"field": "discharge2"}, "y2": {"field": "velocity2"}}},
        {"data": {"name": "velocity_ticks"}, "transform": [{"filter": "datum.side === 'top'"}], "mark": {"type": "tick", "orient": "vertical", "size": 17, "thickness": 1.3, "yOffset": 8.5, "color": "#222222", "opacity": 1}},
        {"data": {"name": "velocity_ticks"}, "transform": [{"filter": "datum.side === 'bottom'"}], "mark": {"type": "tick", "orient": "vertical", "size": 17, "thickness": 1.3, "yOffset": -8.5, "color": "#222222", "opacity": 1}},
        {"data": {"name": "velocity_ticks"}, "transform": [{"filter": "datum.side === 'left'"}], "mark": {"type": "tick", "orient": "horizontal", "size": 12, "thickness": 1.3, "xOffset": 6, "color": "#222222", "opacity": 1}},
        {"data": {"name": "velocity_ticks"}, "transform": [{"filter": "datum.side === 'right'"}], "mark": {"type": "tick", "orient": "horizontal", "size": 12, "thickness": 1.3, "xOffset": -6, "color": "#222222", "opacity": 1}},
        {"data": {"name": "velocity_fit"}, "mark": {"type": "line", "color": "#111111", "strokeWidth": 1.8}},
        {"data": {"name": "velocity_points"}, "mark": {"type": "circle", "size": 20, "color": "#111111", "opacity": 1}},
        {"data": {"name": "velocity_labels"}, "transform": [{"filter": "datum.edge === 'outer'"}], "mark": {"type": "text", "align": "right", "baseline": "middle", "dx": -9, "font": "Liberation Sans", "fontSize": 13, "color": "#333333"}, "encoding": {"text": {"field": "label", "type": "nominal"}}},
        {"data": {"name": "velocity_labels"}, "transform": [{"filter": "datum.edge === 'step'"}], "mark": {"type": "text", "align": "right", "baseline": "middle", "dx": -3, "font": "Liberation Sans", "fontSize": 13, "color": "#333333"}, "encoding": {"text": {"field": "label", "type": "nominal"}}},
        {"data": {"name": "discharge_labels"}, "mark": {"type": "text", "align": "center", "baseline": "middle", "dy": 19, "font": "Liberation Sans", "fontSize": 13, "color": "#333333"}, "encoding": {"text": {"field": "label", "type": "nominal"}}},
        {"data": {"values": [{"discharge": 1, "velocity": 1.07, "label": "Velocity, in feet per second"}]}, "mark": {"type": "text", "angle": 270, "align": "center", "baseline": "middle", "dy": -52, "font": "DejaVu Sans", "fontSize": 13.5, "color": "#333333"}, "encoding": {"text": {"field": "label", "type": "nominal"}}},
        {"data": {"values": [{"discharge": 4500, "velocity": 3.5, "label": "m=.30"}]}, "mark": {"type": "text", "align": "center", "baseline": "middle", "angle": 345, "font": "Liberation Sans", "fontStyle": "italic", "fontSize": 18, "color": "#222222"}, "encoding": {"text": {"field": "label", "type": "nominal"}}},
        {"data": {"values": [{"discharge": 310, "velocity": 0.2, "label": "Discharge, in cfs"}]}, "mark": {"type": "text", "align": "center", "baseline": "middle", "dy": 41, "font": "DejaVu Sans", "fontSize": 13.5, "color": "#333333"}, "encoding": {"text": {"field": "label", "type": "nominal"}}},
        {"data": {"values": [{"discharge": 230, "velocity": 0.2, "label": "FIGURE 4, B.—Relation of width, depth, and velocity to discharge, Powder River at Locate, Mont."}]}, "mark": {"type": "text", "align": "center", "baseline": "middle", "dy": 84, "font": "Liberation Serif", "fontSize": 11.5, "color": "#333333"}, "encoding": {"text": {"field": "label", "type": "nominal"}}},
        {"data": {"values": [{"discharge": 1, "velocity": 0.937, "label": "v"}]}, "mark": {"type": "text", "align": "center", "baseline": "alphabetic", "dx": -28, "font": "Open Sans", "fontWeight": "bold", "fontSize": 75, "color": "#ff0000"}, "encoding": {"text": {"field": "label", "type": "nominal"}}},
        {"data": {"values": [{"discharge": 217, "velocity": 0.2, "label": "discharge Q"}]}, "mark": {"type": "text", "align": "center", "baseline": "alphabetic", "dy": 54, "font": "Open Sans", "fontWeight": "bold", "fontSize": 54, "color": "#ff0000"}, "encoding": {"text": {"field": "label", "type": "nominal"}}}
      ]
    }
  ]
}
